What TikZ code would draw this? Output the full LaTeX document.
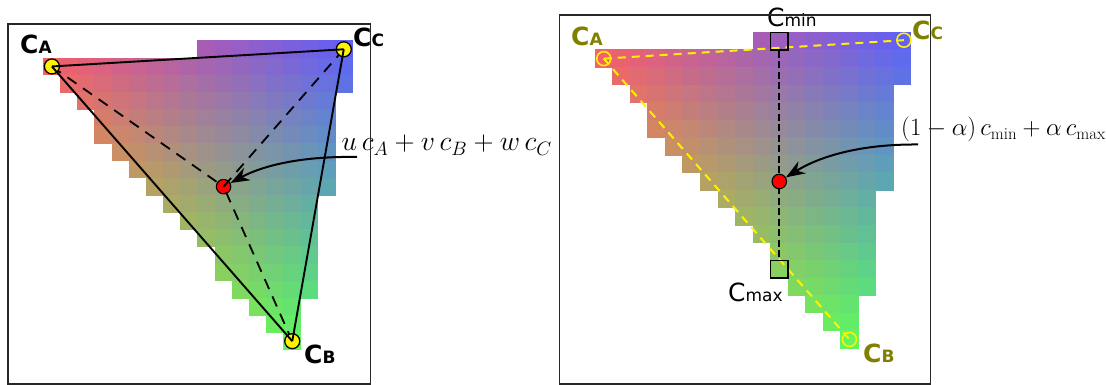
\documentclass[tikz,border=0pt]{standalone}
\usepackage{fontspec}
\newfontfamily\lblfont{DejaVu Sans}
\usetikzlibrary{arrows.meta}
\definecolor{olv}{RGB}{128,128,0}
\definecolor{framecol}{RGB}{40,40,40}
\newcommand\Cl[2]{{\fontsize{25}{25}\selectfont #1}{\fontsize{17}{17}\selectfont #2}}
\newcommand\colorgrid{%
 \foreach \r/\a/\b in {0/9/17,1/0/17,2/1/17,3/2/16,4/3/16,5/3/16,6/4/16,7/5/16,8/6/16,9/7/15,10/8/15,11/9/15,12/10/15,13/10/15,14/11/15,15/12/14,16/13/14,17/14/14}{%
  \foreach \c in {\a,...,\b}{%
   \pgfmathsetmacro\vv{(\c+17*(\r-1))/286}%
   \pgfmathsetmacro\ww{(16*\c-14*(\r-1))/286}%
   \pgfmathsetmacro\uu{1-\vv-\ww}%
   \pgfmathsetmacro\cellR{min(1,max(0,0.96*\uu+0.38*\vv+0.38*\ww))}%
   \pgfmathsetmacro\cellG{min(1,max(0,0.38*\uu+0.96*\vv+0.38*\ww))}%
   \pgfmathsetmacro\cellB{min(1,max(0,0.41*\uu+0.38*\vv+0.96*\ww))}%
   \definecolor{cellcol}{rgb}{\cellR,\cellG,\cellB}%
   \fill[cellcol] (\c-0.02,\r-0.02) rectangle (\c+1.02,\r+1.02);
  }}}
\tikzset{
  vtxL/.style={circle, fill=yellow, draw=black, line width=1.3pt, minimum size=15pt, inner sep=0pt},
  vtxR/.style={circle, draw=yellow, line width=1.6pt, minimum size=14pt, inner sep=0pt},
  reddot/.style={circle, fill=red, draw=black, line width=1.1pt, minimum size=14.5pt, inner sep=0pt},
  sqbox/.style={rectangle, draw=black, line width=1.5pt, minimum size=17.5pt, inner sep=0pt},
  triline/.style={black, line width=1.9pt},
  dashL/.style={black, line width=1.8pt, dash pattern=on 11pt off 8pt},
  dashY/.style={yellow, line width=2pt, dash pattern=on 8pt off 6pt},
  dashK/.style={black, line width=1.8pt, dash pattern=on 7pt off 3.5pt},
  arr/.style={black, line width=2pt, -{Stealth[length=19pt,width=14pt]}},
  frame/.style={draw=framecol, line width=1.8pt},
  lblK/.style={inner sep=0pt, anchor=base west, font=\lblfont\bfseries, text=black},
  lblO/.style={inner sep=0pt, anchor=base west, font=\lblfont\bfseries, text=olv},
  lblN/.style={inner sep=0pt, anchor=base west, font=\lblfont, text=black},
  mathlbl/.style={inner sep=0pt, anchor=base west, font=\fontsize{24}{24}\selectfont}
}
\begin{document}
\begin{tikzpicture}[x=1pt, y=-1pt]
\useasboundingbox (0,0) rectangle (1106,385);
\fill[white] (0,0) rectangle (1106,385);
% ---------- left panel ----------
\begin{scope}[shift={(43.3pt,-40.7pt)}, x=17.17pt, y=-17.17pt]
  \colorgrid
  \node[reddot] (Ld) at (10.5,8.5) {};
  \node[inner sep=0pt, minimum size=15pt] (LA) at (0.5,1.5) {};
  \node[inner sep=0pt, minimum size=15pt] (LB) at (14.5,17.5) {};
  \node[inner sep=0pt, minimum size=15pt] (LC) at (17.5,0.5) {};
  \draw[dashL] (LA.center) -- (Ld.center);
  \draw[dashL] (LB.center) -- (Ld.center);
  \draw[dashL] (LC.center) -- (Ld.center);
  \node[vtxL] (LAc) at (LA) {};
  \node[vtxL] (LBc) at (LB) {};
  \node[vtxL] (LCc) at (LC) {};
  \draw[triline] (LA.center) -- (LC.center);
  \draw[triline] (LC.center) -- (LB.center);
  \draw[triline] (LB.center) -- (LA.center);
\end{scope}
\node[lblK] (tLA) at (20,53.5) {\Cl{C}{A}};
\node[lblK] (tLC) at (353,46.7) {\Cl{C}{C}};
\node[lblK] (tLB) at (304,363.5) {\Cl{C}{B}};
\node[mathlbl, scale=1.12, transform shape] (eqL) at (341.5,151) {$u\,c_A+v\,c_B+w\,c_C$};
\coordinate (tailL) at (357,157);
\draw[arr] (tailL) .. controls (303,156) and (264,165) .. (Ld);
% ---------- right panel ----------
\begin{scope}[shift={(595pt,-32.3pt)}, x=17.55pt, y=-17.55pt]
  \colorgrid
  \node[vtxR] (RA) at (0.5,1.5) {};
  \node[vtxR] (RB) at (14.5,17.5) {};
  \node[vtxR] (RC) at (17.6,0.45) {};
  \draw[dashY] (RA.center) -- (RC.center);
  \draw[dashY] (RA.center) -- (RB.center);
  \node[sqbox] (Rmin) at (10.5,0.5) {};
  \node[sqbox] (Rmax) at (10.5,13.5) {};
  \draw[dashK] (Rmin.south) -- (Rmax.north);
  \node[reddot] (Rd) at (10.5,8.5) {};
\end{scope}
\node[lblO] (tRA) at (571,45.7) {\Cl{C}{A}};
\node[lblO] (tRC) at (912,39.5) {\Cl{C}{C}};
\node[lblO] (tRB) at (863,362.7) {\Cl{C}{B}};
\node[lblN] (tRmin) at (767,26.7) {\Cl{C}{min}};
\node[lblN] (tRmax) at (728,301.7) {\Cl{C}{max}};
\node[mathlbl] (eqR) at (901,136) {$(1-\alpha)\,c_{\min}+\alpha\,c_{\max}$};
\coordinate (tailR) at (918,144.5);
\draw[arr] (tailR) .. controls (864,144) and (822,155) .. (Rd);
% ---------- frames ----------
\draw[frame] (8,24) rectangle (370.5,384);
\draw[frame] (559.5,15) rectangle (930.5,384);
\end{tikzpicture}
\end{document}
